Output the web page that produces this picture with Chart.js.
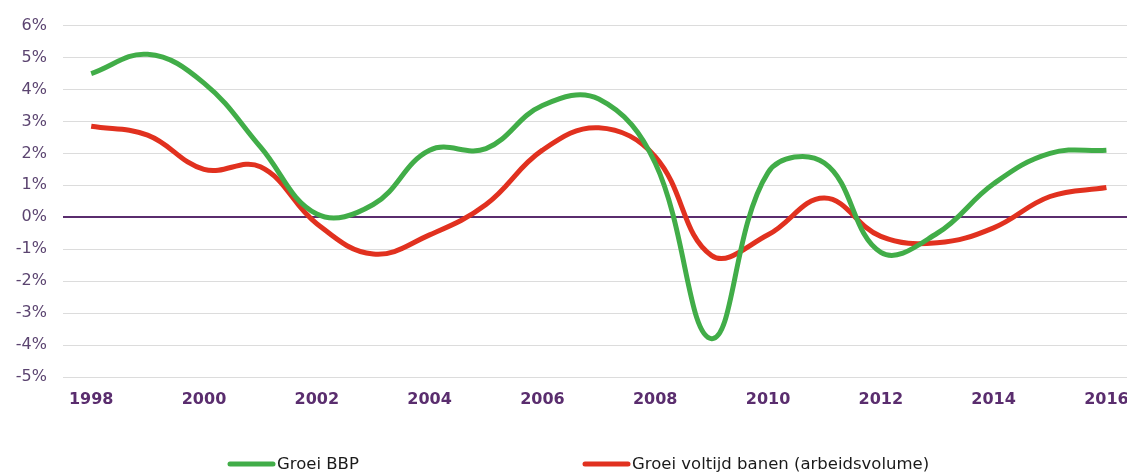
<!DOCTYPE html>
<html>
<head>
<meta charset="utf-8">
<script src="https://cdn.jsdelivr.net/npm/chart.js@4/dist/chart.umd.min.js"></script>
<style>
html,body{margin:0;padding:0;background:#fff;}
#wrap{width:1127px;height:474px;position:relative;}
</style>
</head>
<body>
<div id="wrap"><canvas id="chart" width="1127" height="474"></canvas></div>
<script>
let years=[1998,1999,2000,2001,2002,2003,2004,2005,2006,2007,2008,2009,2010,2011,2012,2013,2014,2015,2016]
let groeiBBP=[4.5,5.1,4.2,2.2,0.1,0.4,2.1,2.15,3.5,3.7,1.7,-3.8,1.4,1.7,-1.1,-0.5,1.05,2.0,2.1]
let groeiBanen=[2.85,2.57,1.5,1.58,-0.2,-1.15,-0.55,0.4,2.1,2.8,1.9,-1.2,-0.55,0.6,-0.6,-0.8,-0.33,0.65,0.93]
let tickYears=[1998,2000,2002,2004,2006,2008,2010,2012,2014,2016]
let seriesNames=["Groei BBP","Groei voltijd banen (arbeidsvolume)"]

let green="#41ad48"
let red="#e1311f"
let purple="#5a2d6e"

function points(vals){
return years.map((y,i)=>({x:y,y:vals[i]}))
}

// legend drawn by hand so the two items sit where they do in the original
let legendPlugin={
id:"bottomLegend",
afterDraw(chart){
let ctx=chart.ctx
let spots=[228,583]
ctx.save()
chart.data.datasets.forEach((ds,i)=>{
let x=spots[i]
let y=464
ctx.strokeStyle=ds.borderColor
ctx.lineWidth=5
ctx.lineCap="round"
ctx.beginPath()
ctx.moveTo(x+2,y)
ctx.lineTo(x+45,y)
ctx.stroke()
ctx.fillStyle="#1a1a1a"
ctx.font="16.5px Verdana, 'DejaVu Sans', sans-serif"
ctx.textBaseline="middle"
ctx.fillText(ds.label,x+49,y+1)
})
ctx.restore()
}
}

let ctx=document.getElementById("chart").getContext("2d")

let chart=new Chart(ctx,{
type:"line",
data:{
datasets:[{
label:seriesNames[0],
data:points(groeiBBP),
borderColor:green,
backgroundColor:green,
borderWidth:5,
pointRadius:0,
tension:0.4
},{
label:seriesNames[1],
data:points(groeiBanen),
borderColor:red,
backgroundColor:red,
borderWidth:5,
pointRadius:0,
tension:0.4
}]
},
options:{
responsive:false,
animation:false,
layout:{padding:{top:23,bottom:60,left:0,right:0}},
plugins:{legend:{display:false},tooltip:{enabled:false}},
scales:{
x:{
type:"linear",
min:1997.5,
max:2016.365,
grid:{display:false},
border:{display:false},
afterBuildTicks(scale){
scale.ticks=tickYears.map(v=>({value:v}))
},
afterFit(scale){
scale.height=37
scale.paddingLeft=0
scale.paddingRight=0
},
ticks:{
autoSkip:false,
maxRotation:0,
padding:5,
color:purple,
font:{family:"Verdana, 'DejaVu Sans', sans-serif",size:16,weight:"bold"},
callback:v=>String(v)
}
},
y:{
min:-5,
max:6,
border:{display:false},
grid:{
drawTicks:false,
color:c=>c.tick.value===0?purple:"#dcdcdc",
lineWidth:c=>c.tick.value===0?2:1
},
afterFit(scale){
scale.width=63
},
ticks:{
stepSize:1,
padding:16,
color:"#5b4470",
font:{family:"Verdana, 'DejaVu Sans', sans-serif",size:16},
callback:v=>v+"%"
}
}
}
},
plugins:[legendPlugin]
})
</script>
</body>
</html>
